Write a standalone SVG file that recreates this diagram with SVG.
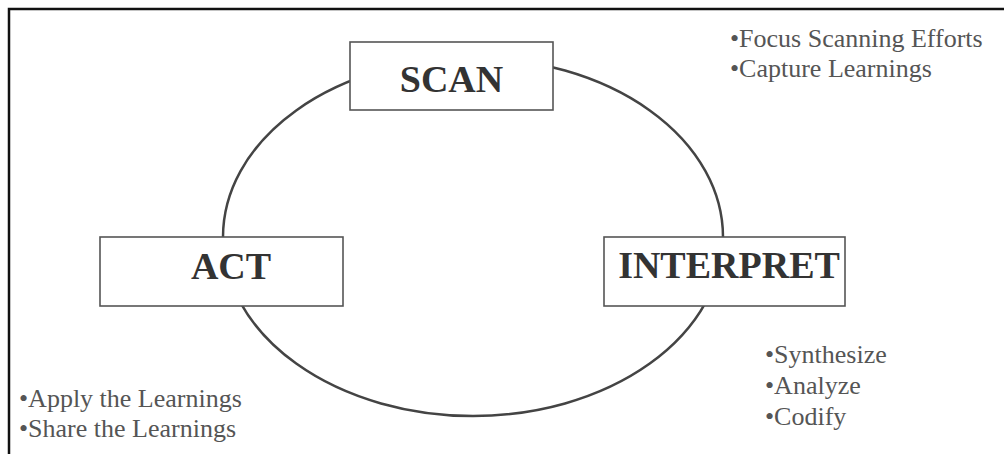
<svg xmlns="http://www.w3.org/2000/svg" width="1004" height="454" viewBox="0 0 1004 454">
<style>
.frame{fill:none;stroke:#111;stroke-width:2.5}
.cycle{fill:none;stroke:#444;stroke-width:2.5}
.box{fill:#fff;stroke:#555;stroke-width:1.6}
.title{font-family:"Liberation Serif","Times New Roman",serif;font-weight:bold;font-size:38px;fill:#333;text-anchor:middle}
.note{font-family:"Liberation Serif","Times New Roman",serif;font-size:26px;fill:#555}
</style>
<rect width="1004" height="454" fill="#fff"/>
<path class="frame" d="M9,454 V9 H1004"/>
<g id="connectors">
<ellipse class="cycle" cx="473" cy="237" rx="250" ry="179"/>
</g>
<g id="scan">
<rect class="box" x="350" y="42" width="203" height="68"/>
<text class="title" x="451.5" y="92">SCAN</text>
</g>
<g id="act">
<rect class="box" x="100" y="237" width="243" height="69"/>
<text class="title" x="231" y="279">ACT</text>
</g>
<g id="interpret">
<rect class="box" x="604" y="237" width="241" height="69"/>
<text class="title" x="729" y="278">INTERPRET</text>
</g>
<g id="scan-notes">
<text class="note" x="730" y="47">•Focus Scanning Efforts</text>
<text class="note" x="730" y="77">•Capture Learnings</text>
</g>
<g id="interpret-notes">
<text class="note" x="765" y="363">•Synthesize</text>
<text class="note" x="765" y="394">•Analyze</text>
<text class="note" x="765" y="425">•Codify</text>
</g>
<g id="act-notes">
<text class="note" x="19" y="407">•Apply the Learnings</text>
<text class="note" x="19" y="437">•Share the Learnings</text>
</g>
</svg>
